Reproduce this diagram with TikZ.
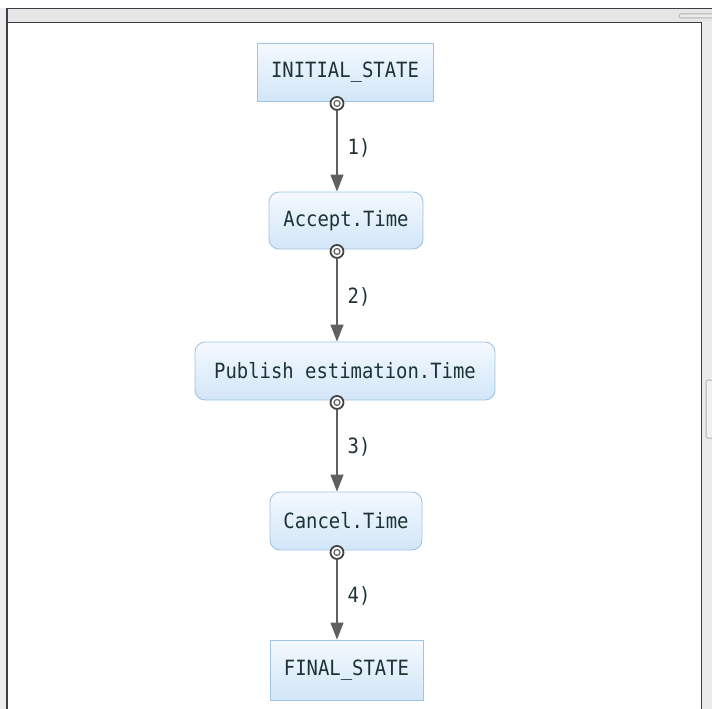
\documentclass[tikz,border=0pt]{standalone}
\usepackage{fontspec}
\newfontfamily\diagfont[FakeStretch=0.9]{DejaVu Sans Mono}
\usetikzlibrary{arrows.meta,calc}
\definecolor{txtc}{RGB}{28,52,52}
\definecolor{boxtop}{RGB}{244,249,254}
\definecolor{boxbot}{RGB}{210,230,248}
\definecolor{boxedge}{RGB}{160,196,228}
\definecolor{arrc}{RGB}{96,96,96}
\definecolor{framec}{RGB}{60,62,72}
\definecolor{paneg}{RGB}{230,230,230}
\begin{document}
\begin{tikzpicture}[x=1pt,y=-1pt,
  statebox/.style={draw=boxedge, line width=0.9pt, top color=boxtop, bottom color=boxbot,
    text=txtc, font=\diagfont\fontsize{21}{24}\selectfont, inner sep=0pt, anchor=center},
  sqbox/.style={statebox, rectangle},
  rndbox/.style={statebox, rounded corners=10pt},
  ring/.style={circle, draw=arrc!70!black, line width=1.8pt, fill=white, minimum size=13pt, inner sep=0pt},
  flow/.style={draw=arrc, line width=1.3pt, -{Triangle[length=17pt,width=13pt]}},
  steplabel/.style={text=txtc, font=\diagfont\fontsize{21}{24}\selectfont, inner sep=0pt}]
\useasboundingbox (0,0) rectangle (712,709);
% window frame
\fill[paneg!70!white] (0,8) rectangle (7,709);
\fill[paneg] (7,8) rectangle (712,22);
\fill[paneg!80!white] (702,22) rectangle (712,709);
\draw[gray!60, line width=1pt, fill=gray!15, rounded corners=1.5pt] (679,14) rectangle (714,18);
\draw[gray!60, line width=1pt, fill=gray!12, rounded corners=1.5pt] (706,380) rectangle (714,438);
\draw[framec, line width=1.4pt] (7,709) -- (7,8.5) -- (712,8.5);
\draw[framec, line width=1.4pt] (7,22.5) -- (701.5,22.5) -- (701.5,709);
% axis for the connectors
\coordinate (axis) at (337,0);
% states
\node[sqbox, minimum width=176pt, minimum height=58pt] (ini) at (345,72) {INITIAL\_STATE};
\node[rndbox, minimum width=154pt, minimum height=57pt] (acc) at (346,220.5) {Accept.Time};
\node[rndbox, minimum width=300pt, minimum height=58pt] (pub) at (345,371) {Publish estimation.Time};
\node[rndbox, minimum width=152pt, minimum height=58pt] (can) at (346,521) {Cancel.Time};
\node[sqbox, minimum width=153pt, minimum height=60pt] (fin) at (346.5,670) {FINAL\_STATE};
% connectors
\foreach \a/\b/\l/\n in {ini/acc/1)/1, acc/pub/2)/2, pub/can/3)/3, can/fin/4)/4}{
  \node[ring] (r\n) at ($(\a.south -| axis)+(0,2)$) {};
  \draw[flow] (r\n.south) -- (\b.north -| axis);
  \node[steplabel] (l\n) at ($(r\n)!0.5!(\b.north -| axis)+(22,0)$) {\l};
}
\foreach \n in {1,2,3,4}{
  \node[circle, draw=arrc, line width=1.2pt, minimum size=6pt, inner sep=0pt] (ri\n) at (r\n) {};
}
\end{tikzpicture}
\end{document}
